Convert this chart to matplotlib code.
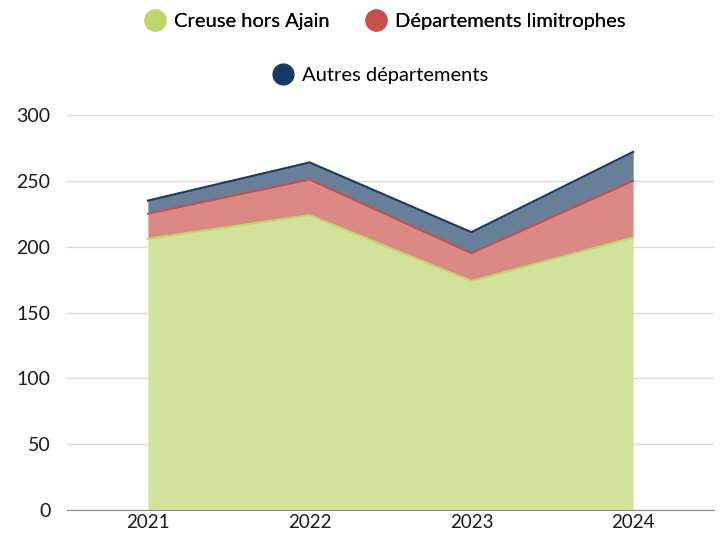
import matplotlib
matplotlib.use("Agg")
import matplotlib.pyplot as plt
from matplotlib.lines import Line2D
import numpy as np

years = ["2021", "2022", "2023", "2024"]
creuse = [206, 224, 174, 207]
limitrophes = [19, 27, 21, 43]
autres = [10, 13, 16, 22]
labels = ["Creuse hors Ajain", "Départements limitrophes", "Autres départements"]

line_colors = ["#bcd66a", "#c9504a", "#1a3a63"]
fill_colors = ["#d1e29b", "#da8984", "#687f99"]

plt.rcParams['font.family'] = ['Lato', 'DejaVu Sans']

fig = plt.figure(figsize=(7.21, 5.36), dpi=100)
ax = fig.add_axes([67/721, 1 - 510/536, (714 - 67)/721, (510 - 115)/536])

x = np.arange(len(years))
c1 = np.array(creuse)
c2 = c1 + np.array(limitrophes)
c3 = c2 + np.array(autres)

ax.fill_between(x, 0, c1, color=fill_colors[0], lw=0, zorder=2)
ax.fill_between(x, c1, c2, color=fill_colors[1], lw=0, zorder=2)
ax.fill_between(x, c2, c3, color=fill_colors[2], lw=0, zorder=2)
ax.plot(x, c1, color=line_colors[0], lw=1.5, zorder=3)
ax.plot(x, c2, color=line_colors[1], lw=1.5, zorder=3)
ax.plot(x, c3, color=line_colors[2], lw=1.5, zorder=3)

ax.set_xlim(-0.5, 3.5)
ax.set_ylim(0, 300)
ax.set_yticks(range(0, 301, 50))
ax.set_xticks(x)
ax.set_xticklabels(years)
ax.grid(axis='y', color='#d9d9d9', lw=1, zorder=1)
ax.set_axisbelow(True)
for s in ['top', 'right', 'left']:
    ax.spines[s].set_visible(False)
ax.spines['bottom'].set_color('#8a8a8a')
ax.spines['bottom'].set_zorder(4)
ax.tick_params(axis='y', length=0, labelsize=14, colors='#1a1a1a', pad=12)
ax.tick_params(axis='x', length=0, labelsize=13.5, colors='#1a1a1a', pad=3)

handles = [Line2D([], [], marker='o', ls='none', markersize=15,
                  markerfacecolor=c, markeredgecolor=c) for c in line_colors]
leg1 = fig.legend(handles[:2], labels[:2], ncol=2, loc='center',
                  bbox_to_anchor=(384/721, 1 - 21/536), frameon=False,
                  fontsize=14.5, handletextpad=0.35, columnspacing=1.7,
                  handlelength=1.2)
leg2 = fig.legend(handles[2:], labels[2:], ncol=1, loc='center',
                  bbox_to_anchor=(380/721, 1 - 75/536), frameon=False,
                  fontsize=14.5, handletextpad=0.35, handlelength=1.2)
fig.add_artist(leg1)

fig.savefig("out.png", dpi=100)
